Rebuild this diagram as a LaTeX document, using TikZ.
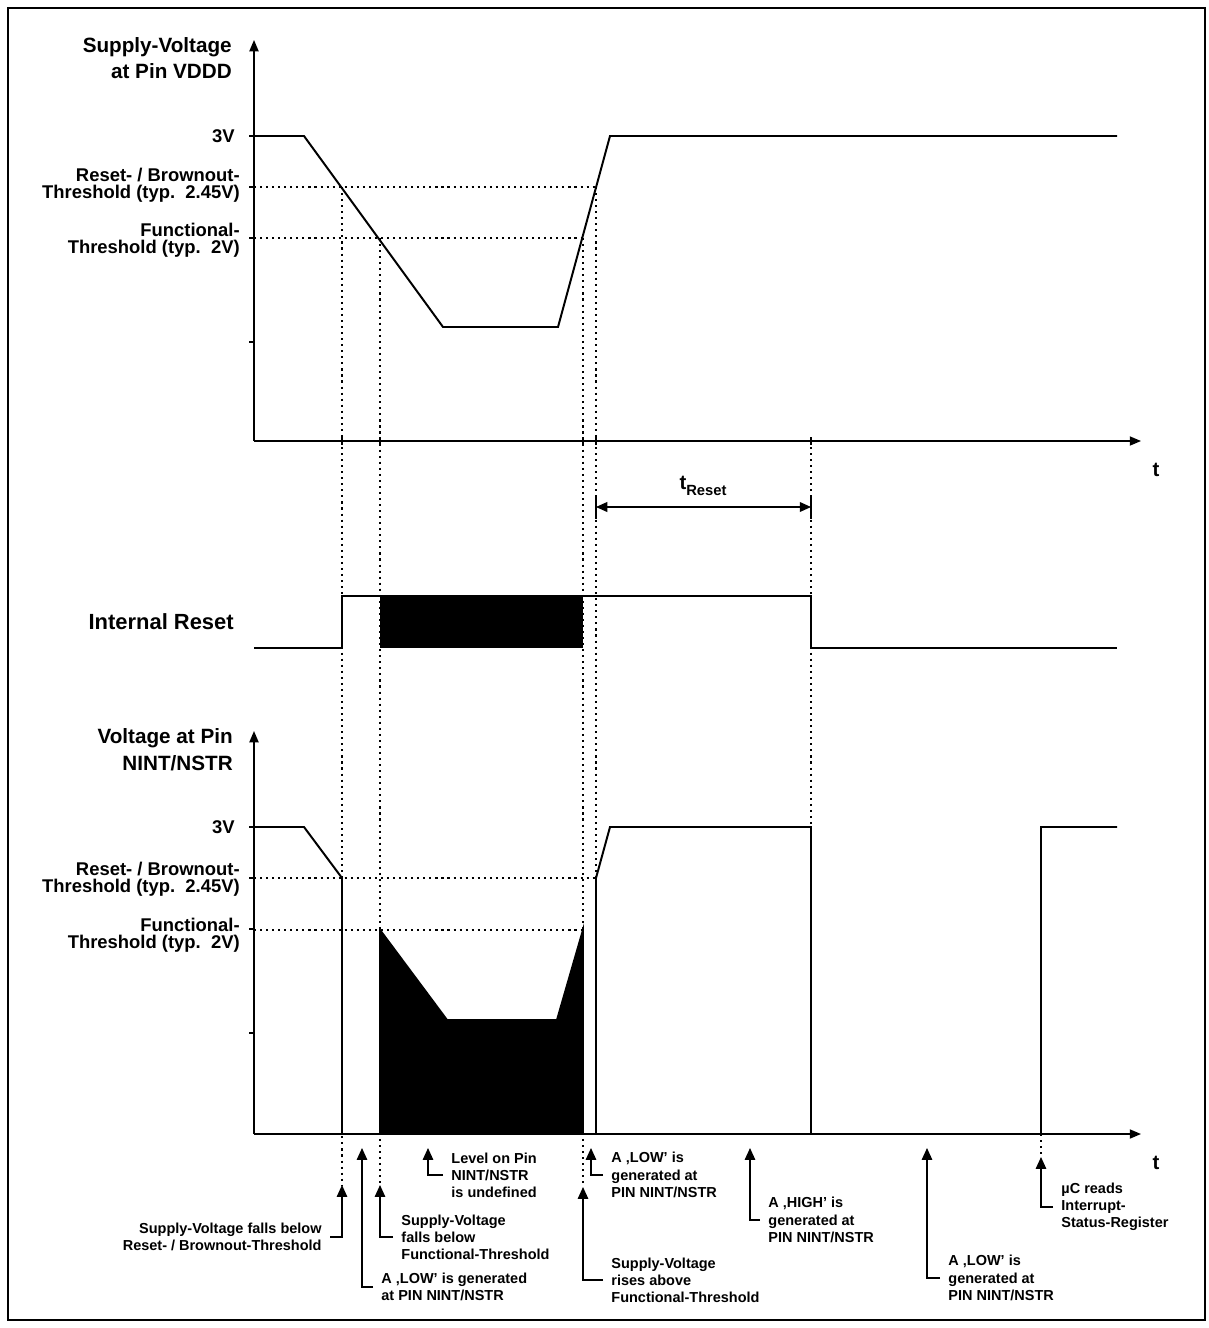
\documentclass[tikz,border=0pt]{standalone}
\usepackage{fontspec}
\setmainfont{Liberation Sans}
\usetikzlibrary{arrows.meta}

\tikzset{
    sig/.style={line width=1.4pt},
    ax/.style={line width=1pt, -{Triangle[length=8pt,width=6.5pt]}},
    tick/.style={line width=0.8pt},
    dots/.style={line width=1.7pt, dash pattern=on 1.5pt off 2.8pt},
    note/.style={line width=0.9pt, -{Triangle[length=8.5pt,width=7.5pt]}},
    head/.style={anchor=east, align=right, inner sep=0pt, font=\bfseries\fontsize{14.7}{19}\selectfont},
    lvl/.style={anchor=east, align=right, inner sep=0pt, font=\bfseries\fontsize{13.1}{12.2}\selectfont},
    txt/.style={anchor=west, align=left, inner sep=0pt, outer sep=6pt, font=\bfseries\fontsize{10.3}{12.2}\selectfont},
    tlab/.style={inner sep=0pt, font=\bfseries\fontsize{14.5}{16}\selectfont},
}

\begin{document}
\begin{tikzpicture}[x=0.025cm, y=-0.025cm]
    \useasboundingbox (0,0) rectangle (1209,1328);
    \draw[line width=1.4pt] (8,8) rectangle (1205,1320);

    % labels on the left
    \node[head] (H1) at (232,58) {Supply-Voltage\\at Pin VDDD};
    \node[lvl] (H2) at (235,136) {3V};
    \node[lvl] (H3) at (240,185) {Reset- / Brownout-\\Threshold (typ.~~2.45V)};
    \node[lvl] (H4) at (240,240) {Functional-\\Threshold (typ.~~2V)};
    \node[head, font=\bfseries\fontsize{15.6}{19}\selectfont] (R1) at (234,622) {Internal Reset};
    \node[head] (N1) at (233,750) {Voltage at Pin\\NINT/NSTR};
    \node[lvl] (N2) at (235,827) {3V};
    \node[lvl] (N3) at (240,879) {Reset- / Brownout-\\Threshold (typ.~~2.45V)};
    \node[lvl] (N4) at (240,935) {Functional-\\Threshold (typ.~~2V)};
    \node[tlab] (T1) at (1156,470) {t};
    \node[tlab] (T2) at (1156,1163) {t};

    % axes
    \draw[ax] (254,441) -- (254,40);
    \draw[ax] (254,441) -- (1141,441);
    \draw[ax] (254,1134) -- (254,731);
    \draw[ax] (254,1134) -- (1141,1134);
    \foreach \y in {136,187,238,342} {
        \draw[tick] (249,\y) -- (254,\y);
        \draw[tick] (249,\y+691) -- (254,\y+691);
    }
    \foreach \x in {342,380,583,596,811}
        \draw[tick] (\x,437) -- (\x,445);

    % arrow tips of the notes
    \coordinate (P1) at (342,1185);
    \coordinate (P2) at (380,1185);
    \coordinate (P3) at (362,1148);
    \coordinate (P4) at (428,1148);
    \coordinate (P5) at (591,1148);
    \coordinate (P6) at (583,1187);
    \coordinate (P7) at (750,1148);
    \coordinate (P8) at (927,1148);
    \coordinate (P9) at (1041,1157);

    % thresholds
    \draw[dots] (254,187) -- (596,187);
    \draw[dots] (254,238) -- (583,238);
    \draw[dots] (254,878) -- (596,878);
    \draw[dots] (254,930) -- (583,930);
    \draw[dots] (342,187) -- (P1);
    \draw[dots] (380,238) -- (P2);
    \draw[dots] (583,238) -- (P6);
    \draw[dots] (596,187) -- (596,878);
    \draw[dots] (811,441) -- (811,827);
    \draw[dots] (1041,1134) -- (P9);

    % signals
    \draw[sig] (254,136) -- (304,136) -- (443,327) -- (558,327) -- (610,136) -- (1117,136);
    \fill (380,596) rectangle (583,648);
    \draw[sig] (254,648) -- (342,648) -- (342,596) -- (811,596) -- (811,648) -- (1117,648);
    \fill (380,930) -- (447,1020) -- (557,1020) -- (583,930) -- (583,1134) -- (380,1134) -- cycle;
    \draw[sig] (254,827) -- (304,827) -- (342,878) -- (342,1134) -- (380,1134) -- (380,930)
        -- (447,1020) -- (557,1020) -- (583,930) -- (583,1134) -- (596,1134) -- (596,878)
        -- (610,827) -- (811,827) -- (811,1134) -- (1041,1134) -- (1041,827) -- (1117,827);

    % t_Reset
    \coordinate (E1) at (596,507);
    \coordinate (E2) at (811,507);
    \draw[tick] (596,497) -- (596,519);
    \draw[tick] (811,497) -- (811,519);
    \draw[line width=0.8pt, {Triangle[length=8pt,width=7pt]}-{Triangle[length=8pt,width=7pt]}] (E1) -- (E2);
    \node[tlab] (D1) at (703,486) {t\raisebox{-4pt}{\fontsize{10.5}{12}\selectfont Reset}};

    % notes
    \node[txt, anchor=east, align=right] (A1) at (330,1237) {Supply-Voltage falls below\\Reset- / Brownout-Threshold};
    \node[txt] (A2) at (393,1237) {Supply-Voltage\\falls below\\Functional-Threshold};
    \node[txt] (A3) at (373,1287) {A ‚LOW’ is generated\\at PIN NINT/NSTR};
    \node[txt] (A4) at (443,1175) {Level on Pin\\NINT/NSTR\\is undefined};
    \node[txt] (A5) at (603,1175) {A ‚LOW’ is\\generated at\\PIN NINT/NSTR};
    \node[txt] (A6) at (603,1280) {Supply-Voltage\\rises above\\Functional-Threshold};
    \node[txt] (A7) at (760,1220) {A ‚HIGH’ is\\generated at\\PIN NINT/NSTR};
    \node[txt] (A8) at (940,1278) {A ‚LOW’ is\\generated at\\PIN NINT/NSTR};
    \node[txt] (A9) at (1053,1207) {µC reads\\Interrupt-\\Status-Register};
    \draw[note] (A1.east) -| (P1);
    \draw[note] (A2.west) -| (P2);
    \draw[note] (A3.west) -| (P3);
    \draw[note] (A4.west) -| (P4);
    \draw[note] (A5.west) -| (P5);
    \draw[note] (A6.west) -| (P6);
    \draw[note] (A7.west) -| (P7);
    \draw[note] (A8.west) -| (P8);
    \draw[note] (A9.west) -| (P9);
\end{tikzpicture}
\end{document}
